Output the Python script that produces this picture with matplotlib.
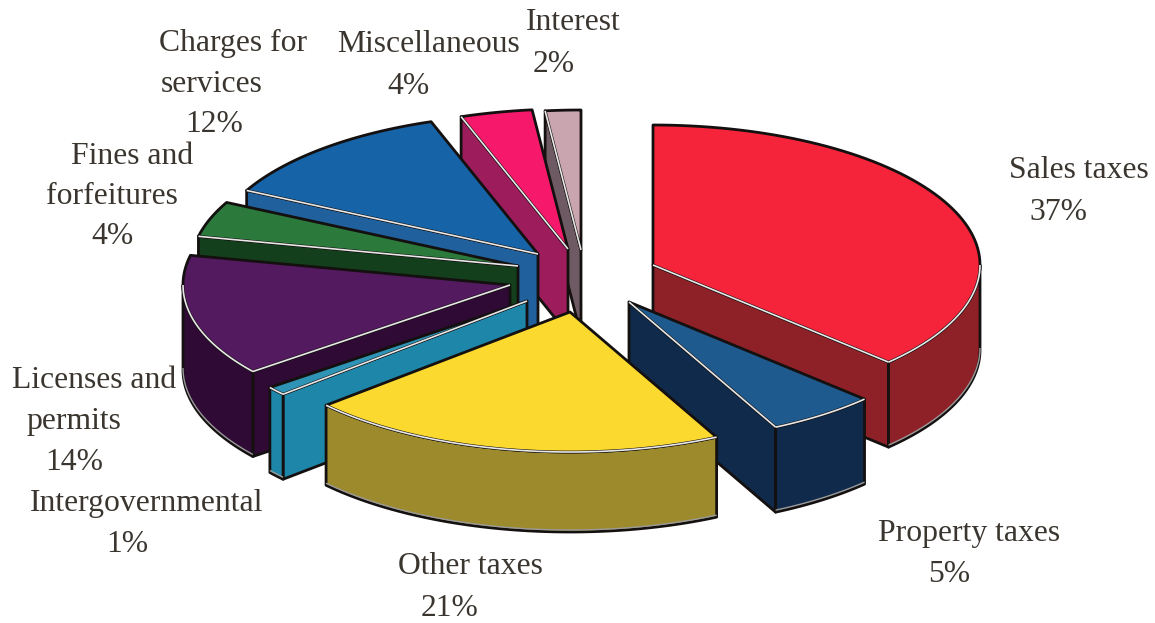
import numpy as np
import matplotlib
matplotlib.use('Agg')
import matplotlib.pyplot as plt
from matplotlib.patches import Polygon

plt.rcParams['font.family'] = ['Liberation Serif', 'DejaVu Serif']

# categories and shares, in clockwise order from 12 o'clock
categories = ['Sales taxes', 'Property taxes', 'Other taxes', 'Intergovernmental',
              'Licenses and permits', 'Fines and forfeitures', 'Charges for services',
              'Miscellaneous', 'Interest']
shares = [37.2, 5.4, 20.8, 1.0, 14.0, 4.1, 12.2, 3.55, 1.75]
pct_labels = ['37%', '5%', '21%', '1%', '14%', '4%', '12%', '4%', '2%']

# where each exploded slice sits (pixel coords of its apex)
apex_x = [653, 629, 570, 527, 510, 518, 538, 568, 581]
apex_y = [265, 302, 312, 301, 285, 266, 254, 249, 250]
top_colors = ['#f5243a', '#1e5a8e', '#fcd92e', '#2e93b5', '#541a60', '#2b7a3c', '#1763a8', '#f6186a', '#c9a5b0']
side_colors = ['#8e2128', '#0f2a4a', '#9c8a2c', '#1e86a8', '#2e0a35', '#143f1c', '#20609c', '#9c1c5c', '#6e5a62']

# label lines: text, x, y
label_lines = [
    ('Sales taxes', 1079, 171), (pct_labels[0], 1058, 213),
    ('Property taxes', 969, 534), (pct_labels[1], 949, 575),
    ('Other taxes', 470, 567), (pct_labels[2], 450, 608),
    ('Intergovernmental', 147, 503), (pct_labels[3], 127, 544),
    ('Licenses and', 94, 381), ('permits', 74, 422), (pct_labels[4], 74, 463),
    ('Fines and', 132, 157), ('forfeitures', 112, 197), (pct_labels[5], 112, 237),
    ('Charges for', 233, 43), ('services', 212, 85), (pct_labels[6], 214, 124),
    ('Miscellaneous', 429, 45), (pct_labels[7], 408, 87),
    ('Interest', 573, 23), (pct_labels[8], 554, 64),
]

RX = 327
RY = 140
DEPTH = 85
INK = '#14100f'


def arc(cx, cy, t0, t1):
    t = np.radians(np.linspace(t0, t1, 80))
    return np.column_stack([cx + RX * np.sin(t), cy - RY * np.cos(t)])


def draw_slice(ax, cx, cy, t0, t1, top, side, depth):
    apex = np.array([[cx, cy]])
    drop = np.array([0, depth])
    # radial faces first
    if t0 > 180:
        p = arc(cx, cy, t0, t0)[0]
        ax.add_patch(Polygon([apex[0], p, p + drop, apex[0] + drop], fc=side, ec=INK, lw=2, joinstyle='round'))
    if t1 < 180:
        p = arc(cx, cy, t1, t1)[0]
        ax.add_patch(Polygon([apex[0], p, p + drop, apex[0] + drop], fc=side, ec=INK, lw=2, joinstyle='round'))
    # outer wall
    a, b = max(t0, 90), min(t1, 270)
    if a < b:
        rim = arc(cx, cy, a, b)
        ax.add_patch(Polygon(np.vstack([rim, (rim + drop)[::-1]]), fc=side, ec=INK, lw=2, joinstyle='round'))
        # pale line along the bottom of the wall
        ax.plot(*(rim + drop - [0, 2]).T, color='#9a9a9a', lw=1.0, solid_capstyle='butt')
    # top face
    rim = arc(cx, cy, t0, t1)
    ax.add_patch(Polygon(np.vstack([apex, rim]), fc=top, ec=INK, lw=2, joinstyle='round'))
    # highlights on the edges that meet a visible wall
    if a < b:
        ax.plot(*arc(cx, cy, a, b).T, color='#e8e8e8', lw=1.2, solid_capstyle='butt')
    for t, show in ((t0, t0 > 180), (t1, t1 < 180)):
        if show:
            p = arc(cx, cy, t, t)[0]
            ax.plot([cx, p[0]], [cy, p[1]], color='#e8e8e8', lw=1.2, solid_capstyle='butt')


fig = plt.figure(figsize=(11.55, 6.23), dpi=100)
ax = fig.add_axes([0, 0, 1, 1])
ax.set_xlim(0, 1155)
ax.set_ylim(623, 0)
ax.axis('off')

edges = np.cumsum([0] + shares) / sum(shares) * 360
# back slices first, the yellow one sits on top of everything
order = [8, 7, 6, 5, 4, 0, 1, 3, 2]
for i in order:
    draw_slice(ax, apex_x[i], apex_y[i], edges[i], edges[i + 1], top_colors[i], side_colors[i], DEPTH - 5 * (i == 2))

for txt, x, y in label_lines:
    ax.text(x, y, txt, ha='center', va='center', fontsize=22.8, color='#3a352f')

fig.savefig('out.png', dpi=100, facecolor='white')
